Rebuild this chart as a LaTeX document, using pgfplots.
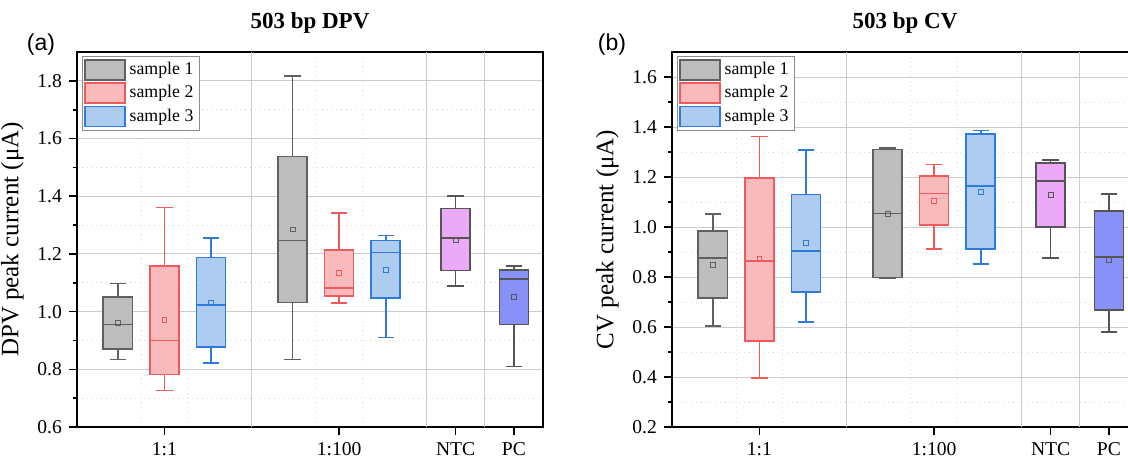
\documentclass[border=0pt]{standalone}
\usepackage{fontspec}
\setmainfont{Liberation Serif}
\newfontfamily\sansf{Liberation Sans}
\usepackage{pgfplots}
\pgfplotsset{compat=1.18}
\usepgfplotslibrary{statistics}
\definecolor{gfill}{HTML}{BDBDBD}
\definecolor{gedge}{HTML}{606060}
\definecolor{rfill}{HTML}{F8BABA}
\definecolor{redge}{HTML}{EE5A5C}
\definecolor{bfill}{HTML}{AECBF0}
\definecolor{bedge}{HTML}{2E7BDB}
\definecolor{vfill}{HTML}{EBAAF7}
\definecolor{pfill}{HTML}{8891F7}
\definecolor{kedge}{HTML}{555555}
\pgfplotsset{
  panel/.style={
    scale only axis, width=233pt, height=187.5pt,
    xmin=-1.5, xmax=6.5,
    xtick={0,3,5,6}, xticklabels={1:1,1:100,NTC,PC},
    xtick pos=bottom, ytick pos=left, tick align=outside,
    major tick length=4pt, minor tick length=2pt,
    extra x ticks={1.5,4.5,5.5}, extra x tick labels={},
    extra x tick style={grid=major, major tick length=0pt},
    minor xtick={-0.4,0.4,2.6,3.4}, xminorgrids,
    minor x tick style={draw=none},
    ymajorgrids, yminorgrids, minor y tick num=1,
    major grid style={color=black!20, line width=0.5pt},
    minor grid style={color=black!14, dotted, line width=0.5pt},
    axis line style={line width=1pt, black},
    tick style={black, line width=0.8pt},
    ticklabel style={font=\fontsize{9.8}{11}\selectfont},
    /pgf/number format/assume math mode=true,
    yticklabel style={/pgf/number format/fixed, /pgf/number format/fixed zerofill, /pgf/number format/precision=1},
    ylabel style={font=\fontsize{12.5}{14}\selectfont},
    title style={font=\fontsize{11.5}{13}\selectfont\bfseries},
    legend style={at={(0.01,0.99)}, anchor=north west, draw=black!45, fill=white,
      font=\fontsize{8.9}{10}\selectfont, inner sep=1pt, row sep=0pt, cells={anchor=west}},
    legend image code/.code={\draw[##1] (0pt,-5pt) rectangle (20pt,5pt);},
  },
  gbox/.style={draw=gedge, fill=gfill, line width=0.8pt, forget plot},
  rbox/.style={draw=redge, fill=rfill, line width=0.8pt, forget plot},
  bbox/.style={draw=bedge, fill=bfill, line width=0.8pt, forget plot},
  vbox/.style={draw=kedge, fill=vfill, line width=0.8pt, forget plot},
  pbox/.style={draw=kedge, fill=pfill, line width=0.8pt, forget plot},
  meanm/.style={only marks, mark=square, mark size=1.2pt, mark options={line width=0.4pt, solid}, forget plot},
}
\begin{document}
\begin{tikzpicture}
\useasboundingbox (0,0) rectangle (564pt,231.5pt);
% ---------------- (a) DPV ----------------
\begin{axis}[panel, at={(38.5pt,18pt)}, anchor=south west,
  ymin=0.6, ymax=1.9, ytick={0.6,0.8,1.0,1.2,1.4,1.6,1.8},
  ylabel={DPV peak current (μA)}, title={503 bp DPV}]
\addplot[gbox, boxplot prepared={draw direction=y, draw position=-0.8, lower whisker=0.834, lower quartile=0.870, median=0.955, upper quartile=1.051, upper whisker=1.097, box extend=0.5, whisker extend=0.28}] coordinates {};
\addplot[rbox, boxplot prepared={draw direction=y, draw position=0, lower whisker=0.727, lower quartile=0.782, median=0.900, upper quartile=1.159, upper whisker=1.361, box extend=0.5, whisker extend=0.28}] coordinates {};
\addplot[bbox, boxplot prepared={draw direction=y, draw position=0.8, lower whisker=0.822, lower quartile=0.877, median=1.024, upper quartile=1.187, upper whisker=1.255, box extend=0.5, whisker extend=0.28}] coordinates {};
\addplot[gbox, boxplot prepared={draw direction=y, draw position=2.2, lower whisker=0.834, lower quartile=1.031, median=1.247, upper quartile=1.538, upper whisker=1.817, box extend=0.5, whisker extend=0.28}] coordinates {};
\addplot[rbox, boxplot prepared={draw direction=y, draw position=3, lower whisker=1.029, lower quartile=1.054, median=1.082, upper quartile=1.213, upper whisker=1.342, box extend=0.5, whisker extend=0.28}] coordinates {};
\addplot[bbox, boxplot prepared={draw direction=y, draw position=3.8, lower whisker=0.910, lower quartile=1.047, median=1.205, upper quartile=1.247, upper whisker=1.264, box extend=0.5, whisker extend=0.28}] coordinates {};
\addplot[vbox, boxplot prepared={draw direction=y, draw position=5, lower whisker=1.089, lower quartile=1.142, median=1.255, upper quartile=1.358, upper whisker=1.401, box extend=0.5, whisker extend=0.28}] coordinates {};
\addplot[pbox, boxplot prepared={draw direction=y, draw position=6, lower whisker=0.810, lower quartile=0.956, median=1.114, upper quartile=1.144, upper whisker=1.158, box extend=0.5, whisker extend=0.28}] coordinates {};
\addplot[meanm, color=gedge] coordinates {(-0.8,0.962) (2.2,1.285)};
\addplot[meanm, color=redge] coordinates {(0,0.971) (3,1.133)};
\addplot[meanm, color=bedge] coordinates {(0.8,1.032) (3.8,1.146)};
\addplot[meanm, color=kedge] coordinates {(5,1.250) (6,1.050)};
\addlegendimage{draw=gedge, fill=gfill, line width=0.8pt}
\addlegendentry{sample 1}
\addlegendimage{draw=redge, fill=rfill, line width=0.8pt}
\addlegendentry{sample 2}
\addlegendimage{draw=bedge, fill=bfill, line width=0.8pt}
\addlegendentry{sample 3}
\end{axis}
% ---------------- (b) CV ----------------
\begin{axis}[panel, at={(336pt,18pt)}, anchor=south west,
  ymin=0.2, ymax=1.7, ytick={0.2,0.4,0.6,0.8,1.0,1.2,1.4,1.6},
  ylabel={CV peak current (μA)}, title={503 bp CV}]
\addplot[gbox, boxplot prepared={draw direction=y, draw position=-0.8, lower whisker=0.603, lower quartile=0.716, median=0.875, upper quartile=0.985, upper whisker=1.052, box extend=0.5, whisker extend=0.28}] coordinates {};
\addplot[rbox, boxplot prepared={draw direction=y, draw position=0, lower whisker=0.396, lower quartile=0.543, median=0.863, upper quartile=1.197, upper whisker=1.362, box extend=0.5, whisker extend=0.28}] coordinates {};
\addplot[bbox, boxplot prepared={draw direction=y, draw position=0.8, lower whisker=0.619, lower quartile=0.740, median=0.905, upper quartile=1.130, upper whisker=1.309, box extend=0.5, whisker extend=0.28}] coordinates {};
\addplot[gbox, boxplot prepared={draw direction=y, draw position=2.2, lower whisker=0.794, lower quartile=0.798, median=1.054, upper quartile=1.310, upper whisker=1.317, box extend=0.5, whisker extend=0.28}] coordinates {};
\addplot[rbox, boxplot prepared={draw direction=y, draw position=3, lower whisker=0.911, lower quartile=1.009, median=1.134, upper quartile=1.205, upper whisker=1.250, box extend=0.5, whisker extend=0.28}] coordinates {};
\addplot[bbox, boxplot prepared={draw direction=y, draw position=3.8, lower whisker=0.853, lower quartile=0.912, median=1.165, upper quartile=1.371, upper whisker=1.386, box extend=0.5, whisker extend=0.28}] coordinates {};
\addplot[vbox, boxplot prepared={draw direction=y, draw position=5, lower whisker=0.877, lower quartile=1.000, median=1.183, upper quartile=1.255, upper whisker=1.269, box extend=0.5, whisker extend=0.28}] coordinates {};
\addplot[pbox, boxplot prepared={draw direction=y, draw position=6, lower whisker=0.579, lower quartile=0.668, median=0.879, upper quartile=1.065, upper whisker=1.132, box extend=0.5, whisker extend=0.28}] coordinates {};
\addplot[meanm, color=gedge] coordinates {(-0.8,0.848) (2.2,1.054)};
\addplot[meanm, color=redge] coordinates {(0,0.872) (3,1.106)};
\addplot[meanm, color=bedge] coordinates {(0.8,0.936) (3.8,1.141)};
\addplot[meanm, color=kedge] coordinates {(5,1.129) (6,0.868)};
\addlegendimage{draw=gedge, fill=gfill, line width=0.8pt}
\addlegendentry{sample 1}
\addlegendimage{draw=redge, fill=rfill, line width=0.8pt}
\addlegendentry{sample 2}
\addlegendimage{draw=bedge, fill=bfill, line width=0.8pt}
\addlegendentry{sample 3}
\end{axis}
\node[font=\sansf\fontsize{11.5}{13}\selectfont] at (20.5pt,209pt) {(a)};
\node[font=\sansf\fontsize{11.5}{13}\selectfont] at (306pt,209pt) {(b)};
\end{tikzpicture}
\end{document}
